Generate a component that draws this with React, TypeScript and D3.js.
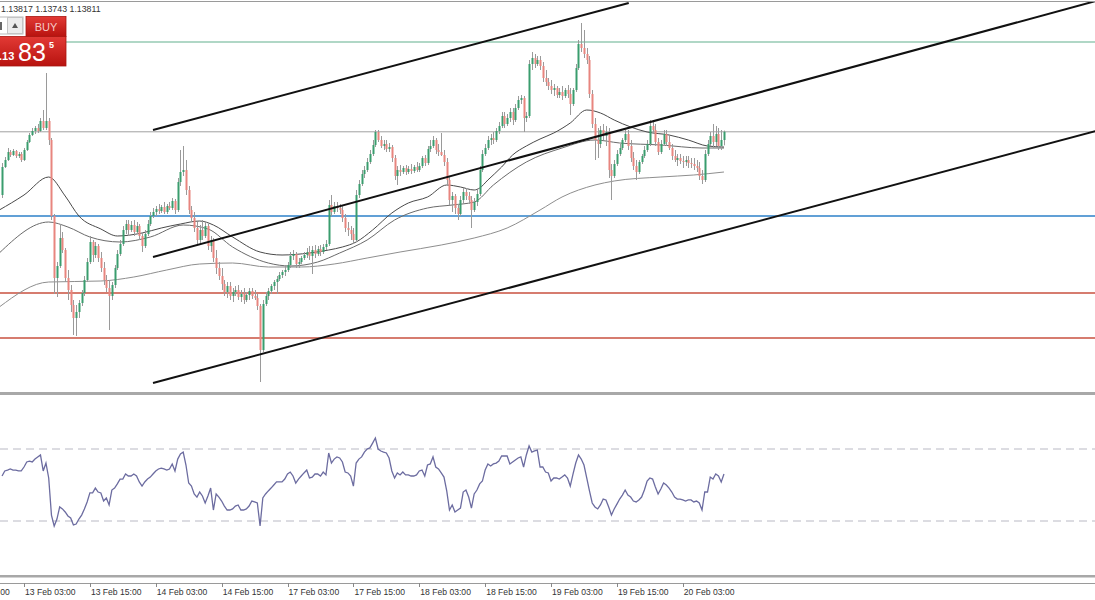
import React from 'react';
import * as d3 from 'd3';

const W = 1095;
const H = 600;

// M30 bars, index 0 = 13 Feb 03:00; first visible bar index:
const FIRST_INDEX = -8;

// [open, high, low, close]
const ohlc: [number, number, number, number][] = [
[1.13495,1.13655,1.13480,1.13635],[1.13635,1.13685,1.13630,1.13670],[1.13670,1.13730,1.13665,1.13710],[1.13710,1.13720,1.13685,1.13695],
[1.13695,1.13725,1.13690,1.13715],[1.13715,1.13720,1.13680,1.13690],[1.13690,1.13710,1.13680,1.13700],[1.13700,1.13710,1.13660,1.13670],
[1.13670,1.13730,1.13665,1.13720],[1.13720,1.13770,1.13715,1.13760],[1.13760,1.13805,1.13755,1.13795],[1.13795,1.13830,1.13790,1.13815],
[1.13815,1.13840,1.13800,1.13830],[1.13830,1.13850,1.13805,1.13815],[1.13815,1.13880,1.13810,1.13865],[1.13865,1.13920,1.13820,1.13830],
[1.13830,1.14105,1.13820,1.13865],[1.13865,1.13880,1.13745,1.13770],[1.13770,1.13780,1.13370,1.13390],[1.13390,1.13400,1.13000,1.13080],
[1.13080,1.13160,1.12985,1.13140],[1.13140,1.13350,1.13130,1.13280],[1.13280,1.13310,1.13205,1.13220],[1.13220,1.13230,1.13060,1.13080],
[1.13080,1.13120,1.12970,1.13020],[1.13020,1.13045,1.12910,1.12945],[1.12945,1.12970,1.12795,1.12880],[1.12880,1.12945,1.12790,1.12910],
[1.12910,1.12970,1.12880,1.12955],[1.12955,1.13020,1.12940,1.13005],[1.13005,1.13090,1.12990,1.13070],[1.13070,1.13180,1.13060,1.13160],
[1.13160,1.13290,1.13150,1.13260],[1.13260,1.13270,1.13160,1.13195],[1.13195,1.13260,1.13180,1.13240],[1.13240,1.13250,1.13160,1.13180],
[1.13180,1.13210,1.13110,1.13130],[1.13130,1.13160,1.13045,1.13070],[1.13070,1.13095,1.13010,1.13030],[1.13030,1.13070,1.12820,1.12990],
[1.12990,1.13060,1.12970,1.13045],[1.13045,1.13145,1.13030,1.13130],[1.13130,1.13220,1.13120,1.13200],[1.13200,1.13270,1.13190,1.13250],
[1.13250,1.13340,1.13240,1.13320],[1.13320,1.13370,1.13300,1.13350],[1.13350,1.13370,1.13290,1.13320],[1.13320,1.13365,1.13310,1.13345],
[1.13345,1.13370,1.13290,1.13310],[1.13310,1.13360,1.13300,1.13340],[1.13340,1.13350,1.13270,1.13290],[1.13290,1.13310,1.13210,1.13240],
[1.13240,1.13320,1.13230,1.13300],[1.13300,1.13370,1.13290,1.13350],[1.13350,1.13410,1.13340,1.13390],[1.13390,1.13430,1.13380,1.13410],
[1.13410,1.13440,1.13390,1.13425],[1.13425,1.13450,1.13400,1.13415],[1.13415,1.13445,1.13405,1.13435],[1.13435,1.13460,1.13400,1.13410],
[1.13410,1.13450,1.13400,1.13440],[1.13440,1.13460,1.13420,1.13430],[1.13430,1.13480,1.13420,1.13465],[1.13465,1.13475,1.13400,1.13420],
[1.13420,1.13580,1.13410,1.13560],[1.13560,1.13720,1.13540,1.13610],[1.13610,1.13740,1.13590,1.13620],[1.13620,1.13670,1.13495,1.13520],
[1.13520,1.13540,1.13400,1.13420],[1.13420,1.13440,1.13360,1.13380],[1.13380,1.13410,1.13310,1.13330],[1.13330,1.13360,1.13245,1.13270],
[1.13270,1.13345,1.13250,1.13320],[1.13320,1.13370,1.13270,1.13290],[1.13290,1.13360,1.13280,1.13340],[1.13340,1.13350,1.13220,1.13240],
[1.13240,1.13290,1.13210,1.13270],[1.13270,1.13280,1.13160,1.13180],[1.13180,1.13220,1.13100,1.13130],[1.13130,1.13160,1.13070,1.13090],
[1.13090,1.13130,1.13020,1.13050],[1.13050,1.13070,1.12990,1.13010],[1.13010,1.13060,1.12980,1.13040],[1.13040,1.13060,1.12970,1.12990],
[1.12990,1.13030,1.12960,1.13010],[1.13010,1.13040,1.12990,1.13020],[1.13020,1.13045,1.12970,1.12985],[1.12985,1.13020,1.12960,1.13000],
[1.13000,1.13030,1.12950,1.12970],[1.12970,1.13010,1.12960,1.12995],[1.12995,1.13030,1.12970,1.13015],[1.13015,1.13030,1.12975,1.12990],
[1.12990,1.13020,1.12970,1.12980],[1.12980,1.13000,1.12920,1.12940],[1.12940,1.12950,1.12560,1.12720],[1.12720,1.12970,1.12710,1.12950],
[1.12950,1.13010,1.12940,1.12990],[1.12990,1.13030,1.12970,1.13015],[1.13015,1.13050,1.13000,1.13040],[1.13040,1.13070,1.13020,1.13060],
[1.13060,1.13090,1.13000,1.13075],[1.13075,1.13110,1.13065,1.13095],[1.13095,1.13120,1.13080,1.13110],[1.13110,1.13140,1.13090,1.13120],
[1.13120,1.13160,1.13110,1.13145],[1.13145,1.13210,1.13130,1.13190],[1.13190,1.13220,1.13170,1.13200],[1.13200,1.13210,1.13130,1.13150],
[1.13150,1.13180,1.13130,1.13160],[1.13160,1.13190,1.13150,1.13180],[1.13180,1.13210,1.13170,1.13195],[1.13195,1.13230,1.13180,1.13210],
[1.13210,1.13240,1.13170,1.13190],[1.13190,1.13240,1.13100,1.13220],[1.13220,1.13245,1.13180,1.13200],[1.13200,1.13240,1.13190,1.13225],
[1.13225,1.13245,1.13190,1.13210],[1.13210,1.13250,1.13200,1.13235],[1.13235,1.13270,1.13220,1.13250],[1.13250,1.13470,1.13240,1.13445],
[1.13445,1.13495,1.13390,1.13410],[1.13410,1.13460,1.13400,1.13440],[1.13440,1.13460,1.13410,1.13430],[1.13430,1.13450,1.13400,1.13420],
[1.13420,1.13440,1.13360,1.13380],[1.13380,1.13400,1.13310,1.13330],[1.13330,1.13360,1.13290,1.13320],[1.13320,1.13340,1.13270,1.13300],
[1.13300,1.13330,1.13250,1.13270],[1.13270,1.13520,1.13260,1.13495],[1.13495,1.13570,1.13480,1.13550],[1.13550,1.13620,1.13540,1.13600],
[1.13600,1.13640,1.13580,1.13620],[1.13620,1.13680,1.13610,1.13660],[1.13660,1.13720,1.13650,1.13700],[1.13700,1.13770,1.13690,1.13745],
[1.13745,1.13820,1.13735,1.13810],[1.13810,1.13820,1.13760,1.13770],[1.13770,1.13790,1.13730,1.13740],[1.13740,1.13770,1.13720,1.13750],
[1.13750,1.13770,1.13710,1.13725],[1.13725,1.13755,1.13710,1.13735],[1.13735,1.13745,1.13660,1.13680],[1.13680,1.13695,1.13570,1.13590],
[1.13590,1.13640,1.13545,1.13620],[1.13620,1.13645,1.13590,1.13610],[1.13610,1.13640,1.13600,1.13630],[1.13630,1.13645,1.13595,1.13610],
[1.13610,1.13640,1.13600,1.13625],[1.13625,1.13650,1.13600,1.13615],[1.13615,1.13645,1.13605,1.13635],[1.13635,1.13660,1.13610,1.13620],
[1.13620,1.13655,1.13610,1.13640],[1.13640,1.13690,1.13630,1.13680],[1.13680,1.13695,1.13640,1.13655],[1.13655,1.13740,1.13645,1.13725],
[1.13725,1.13770,1.13710,1.13740],[1.13740,1.13790,1.13730,1.13770],[1.13770,1.13780,1.13700,1.13720],[1.13720,1.13750,1.13690,1.13710],
[1.13710,1.13805,1.13690,1.13695],[1.13695,1.13720,1.13640,1.13660],[1.13660,1.13680,1.13545,1.13570],[1.13570,1.13590,1.13445,1.13470],
[1.13470,1.13510,1.13410,1.13490],[1.13490,1.13500,1.13400,1.13430],[1.13430,1.13450,1.13370,1.13400],[1.13400,1.13490,1.13390,1.13470],
[1.13470,1.13530,1.13450,1.13510],[1.13510,1.13530,1.13470,1.13490],[1.13490,1.13510,1.13450,1.13470],[1.13470,1.13490,1.13330,1.13420],
[1.13420,1.13480,1.13410,1.13460],[1.13460,1.13520,1.13440,1.13500],[1.13500,1.13640,1.13490,1.13620],[1.13620,1.13720,1.13610,1.13700],
[1.13700,1.13750,1.13690,1.13730],[1.13730,1.13790,1.13720,1.13770],[1.13770,1.13800,1.13745,1.13780],[1.13780,1.13810,1.13750,1.13770],
[1.13770,1.13830,1.13760,1.13815],[1.13815,1.13860,1.13800,1.13840],[1.13840,1.13910,1.13830,1.13890],[1.13890,1.13910,1.13830,1.13850],
[1.13850,1.13900,1.13840,1.13880],[1.13880,1.13930,1.13860,1.13910],[1.13910,1.13930,1.13845,1.13870],[1.13870,1.13950,1.13860,1.13930],
[1.13930,1.13990,1.13920,1.13970],[1.13970,1.13995,1.13950,1.13980],[1.13980,1.13990,1.13810,1.13880],[1.13880,1.13910,1.13860,1.13890],
[1.13890,1.14170,1.13880,1.14150],[1.14150,1.14210,1.14120,1.14180],[1.14180,1.14200,1.14130,1.14150],[1.14150,1.14190,1.14140,1.14170],
[1.14170,1.14190,1.14120,1.14140],[1.14140,1.14160,1.14060,1.14080],[1.14080,1.14120,1.14040,1.14060],[1.14060,1.14080,1.14020,1.14040],
[1.14040,1.14070,1.14000,1.14020],[1.14020,1.14050,1.13990,1.14030],[1.14030,1.14040,1.13980,1.13995],[1.13995,1.14030,1.13980,1.14010],
[1.14010,1.14040,1.13970,1.13990],[1.13990,1.14030,1.13980,1.14020],[1.14020,1.14045,1.13980,1.14000],[1.14000,1.14030,1.13895,1.13950],
[1.13950,1.14030,1.13940,1.14020],[1.14020,1.14150,1.14010,1.14130],[1.14130,1.14270,1.14120,1.14250],[1.14250,1.14355,1.14210,1.14230],
[1.14230,1.14320,1.14180,1.14200],[1.14200,1.14230,1.14150,1.14170],[1.14170,1.14190,1.13980,1.14000],[1.14000,1.14020,1.13830,1.13850],
[1.13850,1.13880,1.13670,1.13770],[1.13770,1.13830,1.13680,1.13750],[1.13750,1.13840,1.13730,1.13820],[1.13820,1.13850,1.13770,1.13790],
[1.13790,1.13840,1.13740,1.13810],[1.13810,1.13830,1.13580,1.13620],[1.13620,1.13650,1.13470,1.13590],[1.13590,1.13670,1.13580,1.13650],
[1.13650,1.13720,1.13640,1.13700],[1.13700,1.13750,1.13690,1.13730],[1.13730,1.13780,1.13720,1.13770],[1.13770,1.13820,1.13760,1.13800],
[1.13800,1.13820,1.13720,1.13740],[1.13740,1.13770,1.13660,1.13680],[1.13680,1.13710,1.13620,1.13640],[1.13640,1.13670,1.13570,1.13610],
[1.13610,1.13670,1.13600,1.13660],[1.13660,1.13700,1.13650,1.13690],[1.13690,1.13740,1.13680,1.13720],[1.13720,1.13770,1.13710,1.13750],
[1.13750,1.13870,1.13740,1.13840],[1.13840,1.13870,1.13800,1.13820],[1.13820,1.13850,1.13740,1.13760],[1.13760,1.13780,1.13695,1.13710],
[1.13710,1.13770,1.13700,1.13750],[1.13750,1.13820,1.13740,1.13800],[1.13800,1.13820,1.13740,1.13760],[1.13760,1.13790,1.13720,1.13730],
[1.13730,1.13750,1.13670,1.13690],[1.13690,1.13720,1.13660,1.13670],[1.13670,1.13700,1.13640,1.13680],[1.13680,1.13700,1.13650,1.13665],
[1.13665,1.13690,1.13630,1.13660],[1.13660,1.13690,1.13640,1.13670],[1.13670,1.13690,1.13630,1.13655],[1.13655,1.13680,1.13630,1.13650],
[1.13650,1.13680,1.13620,1.13640],[1.13640,1.13670,1.13610,1.13630],[1.13630,1.13660,1.13570,1.13590],[1.13590,1.13620,1.13550,1.13570],
[1.13570,1.13720,1.13560,1.13700],[1.13700,1.13770,1.13690,1.13750],[1.13750,1.13810,1.13740,1.13790],[1.13790,1.13850,1.13730,1.13760],
[1.13760,1.13840,1.13740,1.13800],[1.13800,1.13830,1.13720,1.13740],[1.13740,1.13820,1.13720,1.13770],[1.13770,1.13817,1.13743,1.13811],
];

// RSI(14) per bar, same indexing as ohlc
const rsi: number[] = [
55.0,57.8,58.3,58.9,58.3,58.3,57.8,57.8,
60.0,62.8,63.3,62.8,64.4,65.6,66.7,57.8,62.2,53.9,
33.3,27.2,31.1,37.8,36.7,35.0,32.8,31.7,27.8,28.3,
31.1,33.3,36.7,40.6,45.6,45.6,48.3,46.1,45.6,41.1,
42.8,38.9,47.2,48.3,50.6,53.3,53.3,56.1,55.0,55.0,
56.1,55.0,51.7,49.4,51.7,53.3,54.4,56.1,57.8,58.9,
59.4,58.9,58.3,58.9,61.7,57.8,64.4,67.2,68.3,61.1,
51.1,49.4,45.0,43.3,46.1,43.9,40.0,43.9,48.3,36.1,
45.0,43.3,41.1,38.3,36.1,36.1,36.7,38.3,38.9,36.1,
36.1,36.7,38.3,41.1,40.6,40.0,27.2,42.8,45.0,46.7,
48.3,50.0,51.7,51.7,51.7,53.3,56.1,57.2,55.0,51.1,
53.3,55.0,56.7,58.3,53.9,54.4,56.1,56.1,55.0,57.2,
55.6,67.8,62.2,64.4,65.6,65.0,62.8,57.2,56.7,55.0,
49.4,62.2,64.4,65.6,68.3,70.0,70.6,73.3,76.1,70.0,
68.9,68.3,67.8,65.0,57.8,53.9,56.7,55.6,57.2,55.6,
55.6,55.0,55.0,55.6,57.8,58.3,55.0,61.1,61.7,65.6,
60.0,58.9,56.7,54.4,46.7,36.1,38.9,35.0,36.1,37.2,
46.1,47.2,43.3,37.2,45.0,47.2,50.6,52.2,58.3,61.7,
60.6,61.7,62.2,63.3,66.1,66.1,66.1,61.7,62.8,63.9,
65.0,65.6,60.0,66.7,71.7,68.3,68.9,69.4,60.0,60.0,
57.2,56.7,52.2,53.9,53.9,53.3,54.4,55.6,53.9,49.4,
56.1,62.2,66.7,64.4,61.1,53.9,46.7,40.0,37.8,36.7,
38.9,42.2,41.7,37.8,33.3,36.7,39.4,42.2,44.4,47.2,
44.4,43.3,41.1,40.6,41.7,43.3,47.2,52.2,53.9,53.3,
48.9,45.0,47.8,51.1,50.0,48.3,46.1,43.3,42.2,42.2,
41.7,41.1,41.7,41.7,40.6,41.1,40.0,36.1,46.1,46.1,
54.4,53.3,56.1,55.0,51.7,56.1,
];

// moving averages read at bar indices: [barIndex, price]
const maFast: [number, number][] = [
[-9,1.13420],[0,1.13495],[9,1.13585],[15,1.13490],[20,1.13390],[28,1.13325],[34,1.13290],[43,1.13305],
[50,1.13330],[57,1.13350],[64,1.13365],[69,1.13345],[76,1.13285],[86,1.13210],[94,1.13195],[104,1.13205],
[111,1.13220],[116,1.13235],[121,1.13260],[127,1.13320],[134,1.13405],[140,1.13455],[147,1.13485],[154,1.13545],
[159,1.13535],[164,1.13520],[166,1.13530],[169,1.13570],[174,1.13635],[178,1.13695],[183,1.13740],[188,1.13775],
[193,1.13805],[199,1.13855],[205,1.13920],[210,1.13905],[215,1.13870],[221,1.13835],[227,1.13810],[235,1.13795],
[242,1.13770],[249,1.13740],[255,1.13735],
];
const maMid: [number, number][] = [
[-9,1.13205],[9,1.13360],[16,1.13335],[24,1.13285],[35,1.13260],[46,1.13285],[58,1.13345],[67,1.13325],
[76,1.13235],[89,1.13155],[97,1.13140],[107,1.13160],[115,1.13205],[125,1.13270],[135,1.13370],[147,1.13430],
[156,1.13445],[164,1.13460],[171,1.13545],[183,1.13660],[196,1.13730],[208,1.13770],[217,1.13755],[232,1.13745],
[247,1.13730],[255,1.13730],
];
const maSlow: [number, number][] = [
[-9,1.12935],[9,1.13060],[28,1.13065],[40,1.13085],[52,1.13120],[64,1.13150],[76,1.13155],[89,1.13135],
[101,1.13135],[113,1.13150],[125,1.13180],[137,1.13210],[152,1.13245],[164,1.13280],[176,1.13330],[188,1.13420],
[196,1.13485],[208,1.13545],[215,1.13565],[232,1.13585],[244,1.13595],[255,1.13610],
];

// horizontal levels (prices)
const resistanceLevel = 1.1426;
const bidLevel = 1.13811;
const pivotLevel = 1.1339;
const supportLevels = [1.13005, 1.1278];

// channel trendlines: [startIndex, startPrice, endIndex, endPrice]
const channelLines: [number, number, number, number][] = [
  [47, 1.13820, 220.3, 1.14455],
  [47, 1.13185, 391, 1.14467],
  [47, 1.12555, 391, 1.13817],
];

const tickIndex = [-24, 0, 24, 48, 72, 96, 120, 144, 168, 192, 216, 240];
const tickLabels = ['12 Feb 15:00', '13 Feb 03:00', '13 Feb 15:00', '14 Feb 03:00', '14 Feb 15:00', '17 Feb 03:00',
  '17 Feb 15:00', '18 Feb 03:00', '18 Feb 15:00', '19 Feb 03:00', '19 Feb 15:00', '20 Feb 03:00'];
const rsiLevels = [70, 30];
const headerValues = ['1.13817', '1.13743', '1.13811'];

const FONT = '"Liberation Sans", Arial, sans-serif';

export default function App() {
  const x = d3.scaleLinear().domain([0, 240]).range([24, 24 + 240 * 2.745]);
  const y = d3.scaleLinear().domain([1.1447, 1.1252]).range([0, 390]);
  const ry = d3.scaleLinear().domain([0, 100]).range([575, 395]);

  const maLine = d3.line<[number, number]>().x(d => x(d[0])).y(d => y(d[1])).curve(d3.curveMonotoneX);
  const rsiLine = d3.line<number>().x((_, i) => x(FIRST_INDEX + i)).y(d => ry(d));

  return (
    <svg width={W} height={H} style={{ position: 'absolute', left: 0, top: 0, background: '#fff' }}
      xmlns="http://www.w3.org/2000/svg">
      <defs>
        <clipPath id="mainClip"><rect x={0} y={2} width={W} height={389} /></clipPath>
        <clipPath id="rsiClip"><rect x={0} y={396} width={W} height={178} /></clipPath>
        <linearGradient id="redG" x1="0" y1="0" x2="0" y2="1">
          <stop offset="0" stopColor="#e23a35" />
          <stop offset="1" stopColor="#b8130f" />
        </linearGradient>
      </defs>
      <rect x={0} y={0} width={W} height={H} fill="#fff" />
      {/* top frame */}
      <line x1={0} x2={W} y1={1.5} y2={1.5} stroke="#9a9a9a" strokeWidth={1} />

      <g clipPath="url(#mainClip)">
        {/* horizontal levels */}
        <line x1={0} x2={W} y1={y(resistanceLevel)} y2={y(resistanceLevel)} stroke="#62b08e" strokeWidth={1.2} />
        <line x1={0} x2={W} y1={y(bidLevel)} y2={y(bidLevel)} stroke="#a0a0a0" strokeWidth={1} />
        <line x1={0} x2={W} y1={y(pivotLevel)} y2={y(pivotLevel)} stroke="#2c80c8" strokeWidth={1.5} />
        {supportLevels.map((p, i) => (
          <line key={i} x1={0} x2={W} y1={y(p)} y2={y(p)} stroke="#c8503f" strokeWidth={1.5} />
        ))}

        {/* moving averages */}
        <path d={maLine(maSlow) || ''} fill="none" stroke="#8e8e8e" strokeWidth={1} />
        <path d={maLine(maMid) || ''} fill="none" stroke="#6a6a6a" strokeWidth={1} />
        <path d={maLine(maFast) || ''} fill="none" stroke="#4a4a4a" strokeWidth={1} />

        {/* candles */}
        {ohlc.map((c, k) => {
          const idx = FIRST_INDEX + k;
          const cx = Math.round(x(idx));
          const [o, h, l, cl] = c;
          const up = cl >= o;
          const top = y(Math.max(o, cl));
          const bot = y(Math.min(o, cl));
          return (
            <g key={k}>
              <line x1={cx + 0.5} x2={cx + 0.5} y1={y(h)} y2={y(l)} stroke="#9a9a9a" strokeWidth={1} />
              <rect x={cx - 0.5} y={top} width={2} height={Math.max(1, bot - top)} fill={up ? '#3a9d6e' : '#e8857f'} />
            </g>
          );
        })}

        {/* channel trend lines */}
        {channelLines.map((l, i) => (
          <line key={i} x1={x(l[0])} y1={y(l[1])} x2={x(l[2])} y2={y(l[3])} stroke="#111" strokeWidth={2} />
        ))}
      </g>

      {/* separator main / rsi */}
      <rect x={0} y={392} width={W} height={3} fill="#a8a8a8" />

      {/* RSI */}
      <g clipPath="url(#rsiClip)">
        {rsiLevels.map((v, i) => (
          <line key={i} x1={0} x2={W} y1={ry(v)} y2={ry(v)} stroke="#b9b9c4" strokeWidth={1} strokeDasharray="8,5" />
        ))}
        <path d={rsiLine(rsi) || ''} fill="none" stroke="#6c6ca0" strokeWidth={1.3} />
      </g>

      {/* separator rsi / axis */}
      <rect x={0} y={575} width={W} height={2.5} fill="#a8a8a8" />
      <line x1={0} x2={W} y1={583.5} y2={583.5} stroke="#9a9a9a" strokeWidth={1} />
      {tickIndex.map((t, i) => (
        <g key={i}>
          <line x1={Math.round(x(t)) + 0.5} x2={Math.round(x(t)) + 0.5} y1={583} y2={587} stroke="#888" strokeWidth={1} />
          <text x={x(t) + 1} y={595} fontFamily={FONT} fontSize={8.6} fill="#333">{tickLabels[i]}</text>
        </g>
      ))}

      {/* header values */}
      <text x={1} y={12} fontFamily={FONT} fontSize={8.8} fill="#333">{headerValues.join(' ')}</text>

      {/* one-click trading panel */}
      <rect x={-2} y={17} width={25} height={17} fill="#fff" stroke="#b9b9b9" strokeWidth={1} />
      <rect x={7.5} y={17.5} width={15} height={16} fill="#ececec" stroke="#c4c4c4" strokeWidth={1} />
      <path d="M12,28 L15,23 L18,28 Z" fill="#555" />
      <rect x={0} y={7} width={1.6} height={0} fill="#222" />
      <line x1={1} x2={1} y1={22} y2={30} stroke="#333" strokeWidth={1.5} />
      <rect x={26} y={16.5} width={40} height={20} fill="url(#redG)" stroke="#a81510" strokeWidth={0.8} />
      <text x={46} y={31} textAnchor="middle" fontFamily={FONT} fontSize={11} fill="#f6c9c6">BUY</text>
      <rect x={-1} y={36.5} width={67} height={29.5} fill="url(#redG)" stroke="#a81510" strokeWidth={0.8} />
      <text x={-1} y={60} fontFamily={FONT} fontSize={11} fontWeight="bold" fill="#fff">.13</text>
      <text x={18} y={61} fontFamily={FONT} fontSize={25} fill="#fff">83</text>
      <text x={49} y={48} fontFamily={FONT} fontSize={9} fontWeight="bold" fill="#fff">5</text>
    </svg>
  );
}
